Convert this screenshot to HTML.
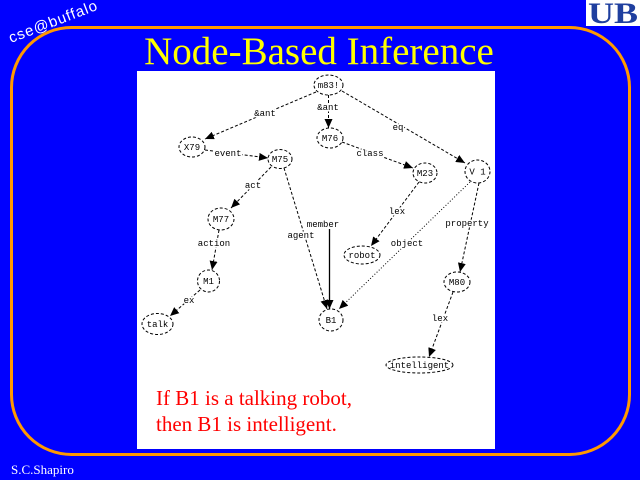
<!DOCTYPE html>
<html><head><meta charset="utf-8"><style>
html,body{margin:0;padding:0;background:#0000ff;}
svg{display:block;}
</style></head><body>
<svg width="640" height="480" viewBox="0 0 640 480" xmlns="http://www.w3.org/2000/svg">
<defs>
<marker id="ar" markerUnits="userSpaceOnUse" markerWidth="9" markerHeight="8" refX="9" refY="4" orient="auto">
<path d="M0,0 L9,4 L0,8 z" fill="#000"/>
</marker>
</defs>
<rect x="0" y="0" width="640" height="480" fill="#0000ff"/>
<!-- orange border -->
<rect x="11.5" y="27.5" width="618" height="427" rx="60" ry="60" fill="none" stroke="#ff9900" stroke-width="3"/>
<!-- UB logo -->
<rect x="586" y="0" width="54" height="26" fill="#ffffff"/>
<text x="588" y="23" font-family="Liberation Serif, serif" font-weight="bold" font-size="30" fill="#1f3f9f" textLength="50" lengthAdjust="spacingAndGlyphs">UB</text>
<!-- cse@buffalo -->
<text x="11" y="43" transform="rotate(-21 11 43)" font-family="Liberation Sans, sans-serif" font-size="15" letter-spacing="1" fill="#ffffff">cse@buffalo</text>
<!-- title -->
<text x="319" y="64" text-anchor="middle" font-family="Liberation Serif, serif" font-size="39" fill="#ffff00">Node-Based Inference</text>
<!-- panel -->
<rect x="137" y="71" width="358" height="378" fill="#ffffff"/>
<!-- edges -->
<g stroke="#000" stroke-width="1" fill="none" stroke-dasharray="3,2">
<line x1="316" y1="92" x2="205" y2="139" marker-end="url(#ar)"/>
<line x1="328.5" y1="95" x2="328.5" y2="128" marker-end="url(#ar)"/>
<line x1="342" y1="91" x2="465" y2="163" marker-end="url(#ar)"/>
<line x1="205" y1="150" x2="268" y2="158" marker-end="url(#ar)"/>
<line x1="271" y1="167" x2="231" y2="208" marker-end="url(#ar)"/>
<line x1="219" y1="230" x2="212" y2="270" marker-end="url(#ar)"/>
<line x1="200" y1="290" x2="170" y2="316" marker-end="url(#ar)"/>
<line x1="284" y1="168" x2="327" y2="309" marker-end="url(#ar)"/>
<line x1="342" y1="142" x2="413" y2="168" marker-end="url(#ar)"/>
<line x1="419" y1="182" x2="371" y2="246" marker-end="url(#ar)"/>
<line x1="470" y1="182" x2="339" y2="309" stroke-dasharray="1,2" marker-end="url(#ar)"/>
<line x1="479" y1="183" x2="460" y2="272" marker-end="url(#ar)"/>
<line x1="453" y1="292" x2="429" y2="357" marker-end="url(#ar)"/>
</g>
<line x1="329.5" y1="229" x2="329.5" y2="309" stroke="#000" stroke-width="1.3" marker-end="url(#ar)"/>
<!-- nodes -->
<g stroke="#000" stroke-width="1" fill="#fff" stroke-dasharray="3,2">
<ellipse cx="328.5" cy="85" rx="14.5" ry="10"/>
<ellipse cx="192" cy="147" rx="13" ry="10"/>
<ellipse cx="280" cy="159" rx="12" ry="9.5"/>
<ellipse cx="221" cy="219" rx="13" ry="11"/>
<ellipse cx="208.5" cy="281" rx="11" ry="11"/>
<ellipse cx="157.5" cy="324" rx="15.5" ry="10.5"/>
<ellipse cx="331" cy="320" rx="12" ry="11"/>
<ellipse cx="330" cy="138" rx="13" ry="10"/>
<ellipse cx="425" cy="173" rx="12" ry="10"/>
<ellipse cx="362" cy="255" rx="18" ry="9"/>
<ellipse cx="477.5" cy="171.5" rx="12.5" ry="11.5"/>
<ellipse cx="457" cy="282" rx="13" ry="10"/>
<ellipse cx="419.5" cy="365" rx="33.5" ry="8"/>
</g>
<g font-family="Liberation Mono, monospace" font-size="9" fill="#000" text-anchor="middle">
<text x="328.5" y="88">m83!</text>
<text x="192" y="150">X79</text>
<text x="280" y="162">M75</text>
<text x="221" y="222">M77</text>
<text x="208.5" y="284">M1</text>
<text x="157.5" y="327">talk</text>
<text x="331" y="323">B1</text>
<text x="330" y="141">M76</text>
<text x="425" y="176">M23</text>
<text x="362" y="258">robot</text>
<text x="477.5" y="174.5">V 1</text>
<text x="457" y="285">M80</text>
<text x="419.5" y="368">intelligent</text>
</g>
<g font-family="Liberation Mono, monospace" font-size="9" fill="#000" text-anchor="middle" stroke="#fff" stroke-width="3" paint-order="stroke">
<text x="265" y="116">&amp;ant</text>
<text x="328" y="110">&amp;ant</text>
<text x="398" y="130">eq</text>
<text x="228" y="156">event</text>
<text x="253" y="188">act</text>
<text x="214" y="246">action</text>
<text x="189" y="303">ex</text>
<text x="301" y="238">agent</text>
<text x="323" y="227">member</text>
<text x="370" y="156">class</text>
<text x="397" y="214">lex</text>
<text x="407" y="246">object</text>
<text x="467" y="226">property</text>
<text x="440" y="321">lex</text>
</g>
<!-- caption -->
<g font-family="Liberation Serif, serif" font-size="21" fill="#ff0000">
<text x="156" y="405">If B1 is a talking robot,</text>
<text x="156" y="431">then B1 is intelligent.</text>
</g>
<!-- footer -->
<text x="11" y="474" font-family="Liberation Serif, serif" font-size="13" fill="#ffffff">S.C.Shapiro</text>
</svg>
</body></html>
